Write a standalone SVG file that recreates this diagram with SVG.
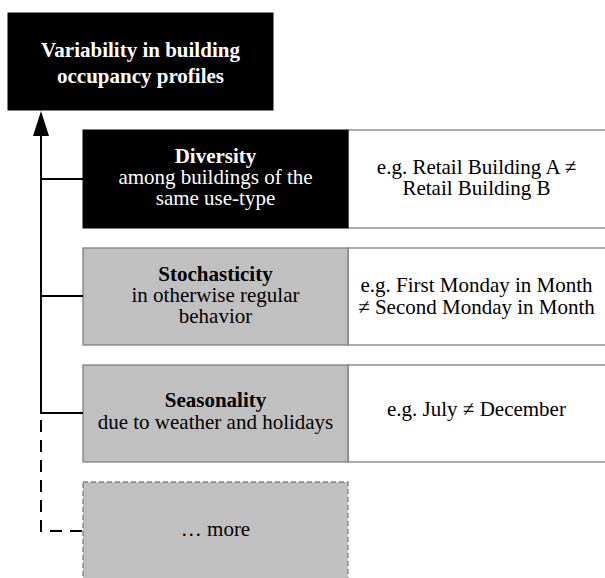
<svg xmlns="http://www.w3.org/2000/svg" width="605" height="578" viewBox="0 0 605 578">
<style>
text{font-family:"Liberation Serif",Tinos,"DejaVu Serif",serif;font-size:21px;text-anchor:middle}
.b{font-weight:bold}
.w{fill:#fff}
.k{fill:#000}
.blk{fill:#000;stroke:#000;stroke-width:1}
.gry{fill:#c0c0c0;stroke:#7f7f7f;stroke-width:1.3}
.wht{fill:#fff;stroke:#7f7f7f;stroke-width:1.3}
.ln{stroke:#000;stroke-width:2;fill:none}
</style>
<g id="root">
<rect x="8" y="13" width="265" height="97" class="blk"/>
<text class="b w" x="140.5" y="57">Variability in building</text>
<text class="b w" x="140.5" y="83">occupancy profiles</text>
</g>
<g id="diversity">
<rect x="348" y="130" width="262" height="98" class="wht"/>
<rect x="83" y="130" width="265" height="98" class="blk"/>
<text class="b w" x="215.5" y="163">Diversity</text>
<text class="w" x="215.5" y="184">among buildings of the</text>
<text class="w" x="215.5" y="205">same use-type</text>
<text class="k" x="476.5" y="174">e.g. Retail Building A ≠</text>
<text class="k" x="476.5" y="195">Retail Building B</text>
</g>
<g id="stochasticity">
<rect x="348" y="248" width="262" height="97" class="wht"/>
<rect x="83" y="248" width="265" height="97" class="gry"/>
<text class="b k" x="215.5" y="281">Stochasticity</text>
<text class="k" x="215.5" y="302">in otherwise regular</text>
<text class="k" x="215.5" y="323">behavior</text>
<text class="k" x="476.5" y="292">e.g. First Monday in Month</text>
<text class="k" x="476.5" y="314">≠ Second Monday in Month</text>
</g>
<g id="seasonality">
<rect x="348" y="365" width="262" height="97" class="wht"/>
<rect x="83" y="365" width="265" height="97" class="gry"/>
<text class="b k" x="215.5" y="407">Seasonality</text>
<text class="k" x="215.5" y="429">due to weather and holidays</text>
<text class="k" x="476.5" y="416">e.g. July ≠ December</text>
</g>
<g id="more">
<rect x="83" y="482" width="265" height="110" class="gry" stroke-dasharray="5,3"/>
<text class="k" x="215.5" y="536">… more</text>
</g>
<g id="connectors">
<line x1="41" y1="135" x2="41" y2="414" class="ln"/>
<polygon points="41,111 33,136 49,136" fill="#000"/>
<line x1="41" y1="179" x2="83" y2="179" class="ln"/>
<line x1="41" y1="296" x2="83" y2="296" class="ln"/>
<line x1="41" y1="413" x2="83" y2="413" class="ln"/>
<polyline points="41,420 41,531 83,531" class="ln" stroke-dasharray="12,8"/>
</g>
</svg>
